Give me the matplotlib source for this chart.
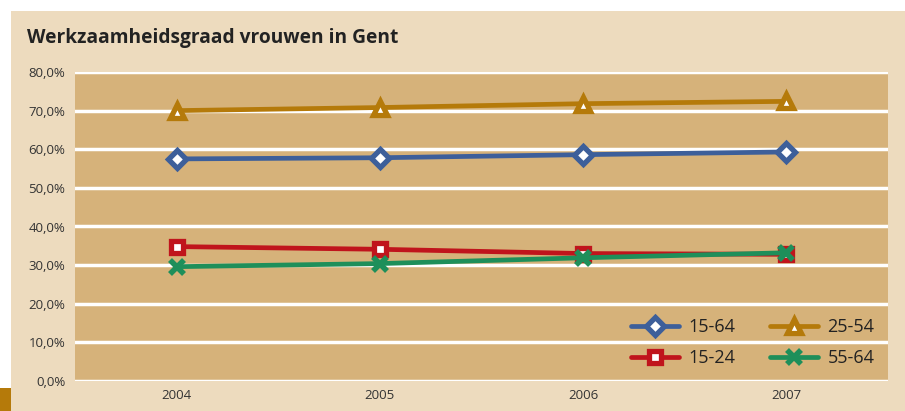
import matplotlib
matplotlib.use("Agg")
import matplotlib.pyplot as plt
from matplotlib.patches import Rectangle

years = ["2004", "2005", "2006", "2007"]
s_15_64 = [57.5, 57.8, 58.6, 59.3]
s_25_54 = [70.0, 70.8, 71.8, 72.4]
s_15_24 = [34.8, 34.1, 33.0, 32.8]
s_55_64 = [29.6, 30.4, 31.9, 33.2]
yticks = [0, 10, 20, 30, 40, 50, 60, 70, 80]
ytick_labels = ["0,0%", "10,0%", "20,0%", "30,0%", "40,0%", "50,0%", "60,0%", "70,0%", "80,0%"]

plt.rcParams['font.family'] = ['Open Sans', 'DejaVu Sans']

fig = plt.figure(figsize=(9.05, 4.11), dpi=100, facecolor='white')
fig.patches.append(Rectangle((11/905, 0), 1 - 11/905, 1 - 11/411, transform=fig.transFigure,
                             facecolor='#EDDBBE', edgecolor='none', zorder=-10))
fig.patches.append(Rectangle((0, 0), 11/905, 23/411, transform=fig.transFigure,
                             facecolor='#B57A0A', edgecolor='none', zorder=-10))

ax = fig.add_axes([75/905, 1 - 381/411, (888 - 75)/905, (381 - 72)/411])
ax.set_zorder(5)
ax.set_facecolor('#D6B27A')
for s in ax.spines.values():
    s.set_visible(False)

x = list(range(len(years)))
lw = 3.4
ax.plot(x, s_15_64, color='#3D5F9A', lw=lw, marker='D', ms=9, mfc='white', mec='#3D5F9A', mew=3.8,
        label='15-64', zorder=3, solid_capstyle='round')
ax.plot(x, s_25_54, color='#B57A0A', lw=lw, marker='^', ms=10.5, mfc='white', mec='#B57A0A', mew=3.8,
        label='25-54', zorder=3, solid_capstyle='round')
ax.plot(x, s_15_24, color='#C0141C', lw=lw, marker='s', ms=9, mfc='white', mec='#C0141C', mew=3.8,
        label='15-24', zorder=3, solid_capstyle='round')
ax.plot(x, s_55_64, color='#1E8F5A', lw=lw, marker='x', ms=10, mec='#1E8F5A', mew=4,
        label='55-64', zorder=3, solid_capstyle='round')

ax.set_xlim(-0.5, 3.5)
ax.set_ylim(0, 80)
ax.set_yticks(yticks)
ax.set_yticklabels(ytick_labels)
ax.set_xticks(x)
ax.set_xticklabels(years)
ax.yaxis.grid(True, color='white', lw=2.5)
ax.set_axisbelow(True)
ax.tick_params(axis='both', length=0, labelsize=9.5, colors='#333333')
ax.tick_params(axis='y', pad=7)
ax.tick_params(axis='x', pad=6)

handles, labels = ax.get_legend_handles_labels()
order = [0, 2, 1, 3]
leg = ax.legend([handles[i] for i in order], [labels[i] for i in order], ncol=2, loc='lower right',
                frameon=False, fontsize=13, handlelength=2.7, columnspacing=1.9,
                handletextpad=0.5, labelspacing=0.75, borderaxespad=0.35, labelcolor='#222222')

fig.text(27/905, 1 - 38/411, "Werkzaamheidsgraad vrouwen in Gent", fontsize=13.8, fontweight='bold',
         color='#222222', va='center', ha='left')

fig.savefig("out.png", dpi=100, facecolor=fig.get_facecolor())
